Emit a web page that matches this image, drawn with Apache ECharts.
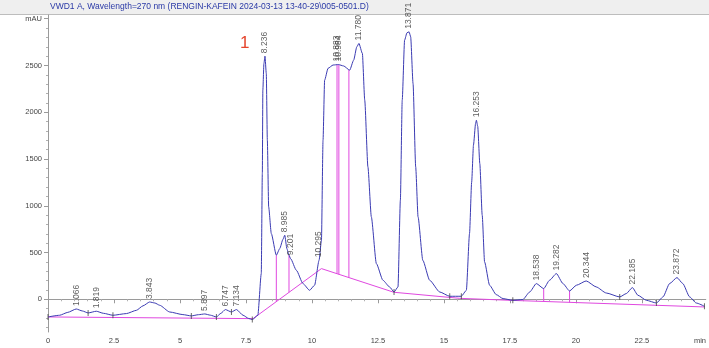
<!DOCTYPE html>
<html>
<head>
<meta charset="utf-8">
<script src="https://cdn.jsdelivr.net/npm/echarts@6/dist/echarts.min.js"></script>
<style>
  html, body { margin: 0; padding: 0; background: #fff; }
  #chart { width: 709px; height: 348px; }
</style>
</head>
<body>
<div id="chart"></div>
<script>
// detector signal (min, mAU)
const sigTime = [0.00, 0.44, 0.75, 1.07, 1.30, 1.52, 1.83, 2.10, 2.46, 2.97, 3.35, 3.60, 3.85, 4.05, 4.23, 4.61,
  5.11, 5.43, 5.70, 5.94, 6.15, 6.38, 6.55, 6.72, 6.95, 7.14, 7.39, 7.60, 7.74, 7.95, 8.08, 8.12, 8.14, 8.18,
  8.22, 8.27, 8.31, 8.36, 8.46, 8.65, 8.78, 8.90, 8.97, 9.05, 9.13, 9.19, 9.41, 9.66, 9.91, 10.10, 10.27, 10.36,
  10.42, 10.48, 10.61, 10.80, 11.00, 11.20, 11.43, 11.58, 11.70, 11.78, 11.91, 12.00, 12.12, 12.25, 12.44, 12.69,
  12.94, 13.11, 13.26, 13.35, 13.42, 13.51, 13.60, 13.68, 13.74, 13.83, 13.93, 14.02, 14.20, 14.46, 14.84, 15.22,
  15.66, 15.85, 15.97, 16.05, 16.12, 16.20, 16.23, 16.28, 16.36, 16.45, 16.54, 16.73, 16.98, 17.24, 17.61, 17.99,
  18.25, 18.50, 18.78, 19.00, 19.26, 19.51, 19.76, 20.02, 20.39, 20.77, 21.15, 21.66, 21.91, 22.14, 22.35, 22.67,
  23.05, 23.30, 23.55, 23.83, 24.05, 24.31, 24.56, 24.87];
const sigValue = [-189, -171, -140, -104, -125, -146, -128, -150, -171, -153, -118, -70, -29, -40, -64, -136,
  -164, -178, -165, -157, -170, -189, -150, -110, -136, -110, -171, -205, -217, -171, 275, 1345, 2236, 2520,
  2600, 2415, 1701, 988, 703, 471, 542, 640, 685, 542, 471, 435, 310, 168, 96, 150, 417, 631,
  1701, 2343, 2470, 2505, 2510, 2495, 2450, 2557, 2700, 2736, 2629, 2129, 1416, 881, 382, 203,
  132, 78, 132, 1059, 2129, 2771, 2850, 2860, 2807, 2308, 1416, 881, 417, 203, 78, 32,
  32, 96, 703, 1250, 1650, 1880, 1915, 1850, 1450, 900, 400, 150, 50, 7, -11, -3,
  78, 168, 114, 203, 275, 168, 89, 150, 196, 132, 67, 25, 61, 125, 43, -11,
  -40, 25, 168, 232, 168, 25, -40, -75];

// integration baseline
const baseTime = [0, 7.77, 10.36, 13.1, 15.6, 17.6, 24.87];
const baseValue = [-189, -207, 328, 75, 10, -12, -82];

// peak drop lines
const dropTime = [8.65, 9.13, 10.95, 11.02, 11.40, 18.78, 19.76];
const dropTop = [471, 471, 2505, 2510, 2455, 114, 89];
const dropBottom = [-26, 74, 273, 266, 231, -23, -33];

// retention time labels
const peakTime = [1.07, 1.83, 3.85, 5.94, 6.72, 7.14, 8.22, 8.97, 9.19, 10.27, 10.92, 11.02, 11.78, 13.66,
  16.23, 18.50, 19.26, 20.39, 22.14, 23.83];
const peakValue = [-104, -128, -29, -157, -110, -110, 2600, 685, 440, 417, 2510, 2510, 2736, 2860,
  1915, 168, 275, 196, 125, 232];
const peakLabel = ['1.066', '1.819', '3.843', '5.897', '6.747', '7.134', '8.236', '8.985', '9.201', '10.295',
  '10.883', '10.984', '11.780', '13.871', '16.253', '18.538', '19.282', '20.344', '22.185', '23.872'];

// peak start/end marks
const markTime = [0, 1.52, 2.46, 5.43, 6.38, 6.95, 7.74, 13.11, 15.22, 15.66, 17.61, 21.66, 23.05, 24.87];
const markValue = [-189, -146, -171, -178, -189, -136, -217, 78, 32, 32, -11, 25, -40, -75];

const xLabels = [0, 2.5, 5, 7.5, 10, 12.5, 15, 17.5, 20, 22.5];
const yLabels = [0, 500, 1000, 1500, 2000, 2500];

const font = 'Liberation Sans, Arial, sans-serif';
const magenta = '#e048e0';
let myChart = echarts.init(document.getElementById('chart'));

let yMinor = [];
for (let v = -300; v <= 3000; v += 100) {
  if (v % 500 !== 0) yMinor.push(v);
}

// drop lines as one broken line series
let dropData = [];
dropTime.forEach((t, i) => {
  dropData.push([t, dropTop[i]], [t, dropBottom[i]], [t, '-']);
});

let option = {
  animation: false,
  backgroundColor: '#fff',
  grid: { left: 48, right: 3, top: 15, bottom: 16 },
  xAxis: {
    type: 'value', min: 0, max: 24.92, interval: 2.5,
    axisLine: { lineStyle: { color: '#9a9a9a', width: 1 } },
    axisTick: { customValues: xLabels, length: 4, lineStyle: { color: '#9a9a9a' } },
    minorTick: { show: true, splitNumber: 5, length: 2, lineStyle: { color: '#b0b0b0' } },
    axisLabel: {
      customValues: xLabels.concat([24.7]), fontSize: 7.5, fontFamily: font, color: '#444', margin: 5,
      formatter: v => (v > 24 ? 'min' : String(v))
    },
    splitLine: { show: false }
  },
  yAxis: [{
    type: 'value', min: -350, max: 3040,
    axisLine: { show: true, lineStyle: { color: '#9a9a9a', width: 1 } },
    axisTick: { show: true, customValues: yLabels.concat([3000]), length: 4, lineStyle: { color: '#9a9a9a' } },
    axisLabel: {
      customValues: yLabels.concat([3000]), fontSize: 7.5, fontFamily: font, color: '#444', margin: 6,
      formatter: v => (v === 3000 ? 'mAU' : String(v))
    },
    splitLine: { show: false }
  }, {
    type: 'value', min: -350, max: 3040, position: 'left',
    axisLine: { show: false },
    axisTick: { show: true, customValues: yMinor, length: 2, lineStyle: { color: '#b0b0b0' } },
    axisLabel: { show: false },
    splitLine: { show: false }
  }],
  graphic: [
    { type: 'rect', shape: { x: 0, y: 0, width: 709, height: 14 }, style: { fill: '#efefef' }, z: -1 },
    { type: 'line', shape: { x1: 0, y1: 14.5, x2: 709, y2: 14.5 }, style: { stroke: '#bdbdbd', lineWidth: 1 } },
    {
      type: 'text', left: 50, top: 2,
      style: {
        text: 'VWD1 A, Wavelength=270 nm (RENGIN-KAFEIN 2024-03-13 13-40-29\\005-0501.D)',
        fill: '#2a39a6', font: '8.5px ' + font
      }
    },
    {
      type: 'text', left: 240, top: 35,
      style: { text: '1', fill: '#e5442c', font: '17px ' + font }
    }
  ],
  series: [
    {
      name: 'baseline', type: 'line', data: baseTime.map((t, i) => [t, baseValue[i]]),
      symbol: 'none', lineStyle: { color: magenta, width: 1 }, z: 2
    },
    {
      name: 'drops', type: 'line', data: dropData, connectNulls: false,
      symbol: 'none', lineStyle: { color: magenta, width: 1 }, z: 2
    },
    {
      name: 'signal', type: 'line', data: sigTime.map((t, i) => [t, sigValue[i]]),
      symbol: 'none', smooth: 0.2, smoothMonotone: 'x',
      lineStyle: { color: '#3b3bb3', width: 1 }, z: 3
    },
    {
      name: 'marks', type: 'scatter', data: markTime.map((t, i) => [t, markValue[i]]),
      symbol: 'rect', symbolSize: [1, 6], itemStyle: { color: '#444' }, z: 4
    },
    {
      name: 'peaks', type: 'scatter', symbolSize: 0,
      data: peakTime.map((t, i) => ({ value: [t, peakValue[i]], name: peakLabel[i] })),
      label: {
        show: true, position: 'top', distance: 3, rotate: 90, align: 'left', verticalAlign: 'middle',
        formatter: p => p.name, fontSize: 8.5, fontFamily: font, color: '#333'
      },
      z: 5
    }
  ]
};
myChart.setOption(option);
</script>
</body>
</html>
